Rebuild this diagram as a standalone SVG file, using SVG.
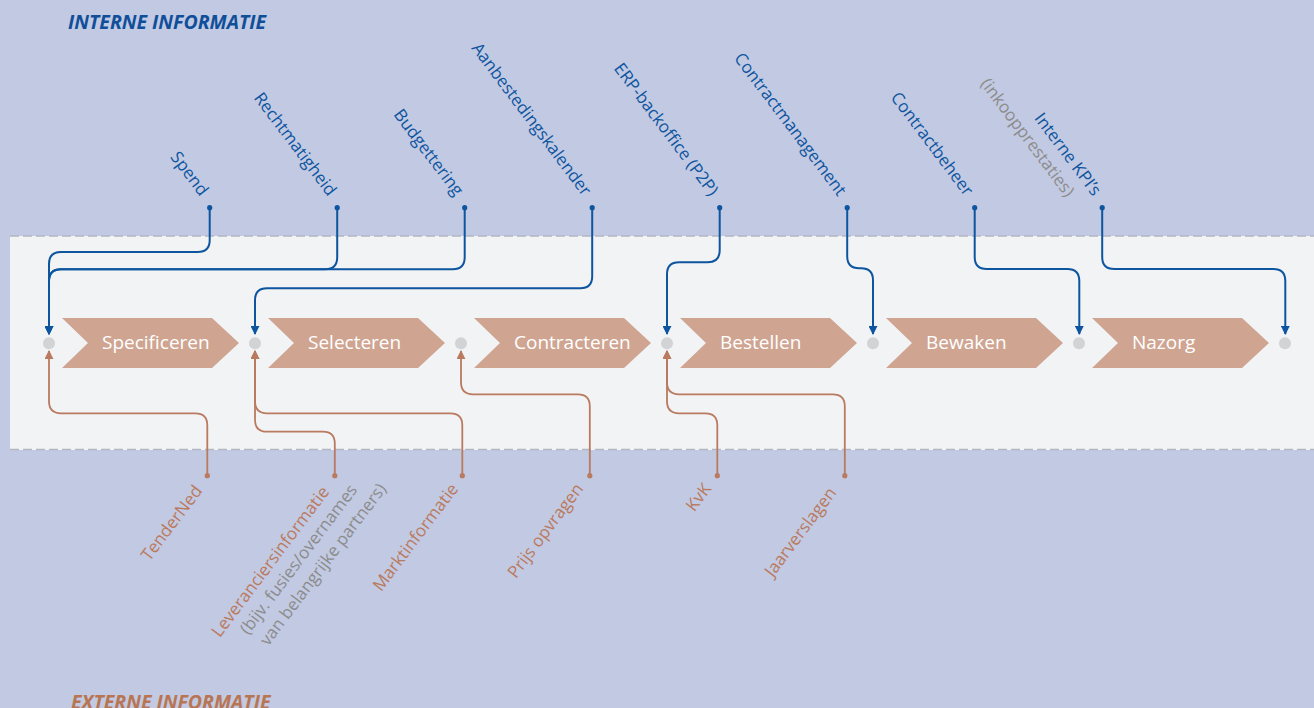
<svg xmlns="http://www.w3.org/2000/svg" width="1314" height="708" viewBox="0 0 1314 708">
<style>
.lbl{font-family:"Open Sans","Liberation Sans",sans-serif;font-size:17px;text-anchor:end}
.in{fill:#0e55a0}
.ex{fill:#b97a5f}
.gr{fill:#8c8c8c}
.step{fill:#cfa592}
.steptxt{font-family:"Open Sans","Liberation Sans",sans-serif;font-size:19px;fill:#ffffff}
.hub{fill:#d2d3d6}
.title{font-family:"Open Sans","Liberation Sans",sans-serif;font-size:19.5px;font-weight:bold;font-style:italic}
.cin{fill:none;stroke:#0e55a0;stroke-width:2;marker-end:url(#ahIn)}
.cex{fill:none;stroke:#b97a5f;stroke-width:1.8;marker-end:url(#ahEx)}
.band{stroke:#b3b7c1;stroke-width:1.5;stroke-dasharray:9 4;fill:none}
</style>
<defs>
<marker id="ahIn" markerUnits="userSpaceOnUse" markerWidth="9" markerHeight="9" viewBox="0 0 10 10" refX="9" refY="5" orient="auto">
<path d="M0,0 L10,5 L0,10 z" fill="#0e55a0"/>
</marker>
<marker id="ahEx" markerUnits="userSpaceOnUse" markerWidth="9" markerHeight="9" viewBox="0 0 10 10" refX="9" refY="5" orient="auto">
<path d="M0,0 L10,5 L0,10 z" fill="#b97a5f"/>
</marker>
<polygon id="chev" points="0,0 150,0 177,25 150,50 0,50 26,25"/>
</defs>
<rect x="0" y="0" width="1314" height="708" fill="#c2c9e2"/>
<rect x="10" y="236" width="1304" height="214" fill="#f2f3f5"/>
<line class="band" x1="10" y1="236" x2="1314" y2="236"/>
<line class="band" x1="10" y1="449.5" x2="1314" y2="449.5"/>

<text class="title" x="68" y="29.3" fill="#0f4f9a">INTERNE INFORMATIE</text>
<text class="title" x="71" y="709" fill="#b87554">EXTERNE INFORMATIE</text>

<g id="steps">
<g id="step-specificeren"><use href="#chev" class="step" x="62" y="318"/><text class="steptxt" x="102" y="349.3">Specificeren</text></g>
<g id="step-selecteren"><use href="#chev" class="step" x="268" y="318"/><text class="steptxt" x="308" y="349.3">Selecteren</text></g>
<g id="step-contracteren"><use href="#chev" class="step" x="474" y="318"/><text class="steptxt" x="514" y="349.3">Contracteren</text></g>
<g id="step-bestellen"><use href="#chev" class="step" x="680" y="318"/><text class="steptxt" x="720" y="349.3">Bestellen</text></g>
<g id="step-bewaken"><use href="#chev" class="step" x="886" y="318"/><text class="steptxt" x="926" y="349.3">Bewaken</text></g>
<g id="step-nazorg"><use href="#chev" class="step" x="1092" y="318"/><text class="steptxt" x="1132" y="349.3">Nazorg</text></g>
</g>

<g id="hubs">
<circle class="hub" cx="49" cy="343.3" r="6"/>
<circle class="hub" cx="255" cy="343.3" r="6"/>
<circle class="hub" cx="461" cy="343.3" r="6"/>
<circle class="hub" cx="667" cy="343.3" r="6"/>
<circle class="hub" cx="873" cy="343.3" r="6"/>
<circle class="hub" cx="1079" cy="343.3" r="6"/>
<circle class="hub" cx="1285" cy="343.3" r="6"/>
</g>

<g id="connectors">
<path class="cin" d="M209.7,207.7 V240 Q209.7,252 197.7,252 H61 Q49,252 49,264 V334"/>
<path class="cin" d="M337.2,207.7 V257.3 Q337.2,269.3 325.2,269.3 H61 Q49,269.3 49,281.3 V334"/>
<path class="cin" d="M464.7,207.7 V257.3 Q464.7,269.3 452.7,269.3 H61 Q49,269.3 49,281.3 V334"/>
<path class="cin" d="M592.2,207.7 V276.3 Q592.2,288.3 580.2,288.3 H267 Q255,288.3 255,300.3 V334"/>
<path class="cin" d="M719.7,207.7 V250.3 Q719.7,262.3 707.7,262.3 H679 Q667,262.3 667,274.3 V334"/>
<path class="cin" d="M847.2,207.7 V256.3 Q847.2,268.3 859.2,268.3 H861 Q873,268.3 873,280.3 V334"/>
<path class="cin" d="M974.7,207.7 V257 Q974.7,269 986.7,269 H1067.3 Q1079.3,269 1079.3,281 V334"/>
<path class="cin" d="M1102.2,207.7 V257 Q1102.2,269 1114.2,269 H1273.3 Q1285.3,269 1285.3,281 V334"/>
<path class="cex" d="M207.3,475.7 V425.3 Q207.3,413.3 195.3,413.3 H61 Q49,413.3 49,401.3 V351"/>
<path class="cex" d="M334.8,475.7 V443.7 Q334.8,431.7 322.8,431.7 H267 Q255,431.7 255,419.7 V351"/>
<path class="cex" d="M462.3,475.7 V425.3 Q462.3,413.3 450.3,413.3 H267 Q255,413.3 255,401.3 V351"/>
<path class="cex" d="M589.8,475.7 V406.3 Q589.8,394.3 577.8,394.3 H473 Q461,394.3 461,382.3 V351"/>
<path class="cex" d="M717.3,475.7 V425.3 Q717.3,413.3 705.3,413.3 H679 Q667,413.3 667,401.3 V351"/>
<path class="cex" d="M844.8,475.7 V406.3 Q844.8,394.3 832.8,394.3 H679 Q667,394.3 667,382.3 V351"/>
</g>

<g id="internal-sources">
<g id="src-spend"><circle cx="209.7" cy="207.7" r="2.6" class="in"/><text class="lbl in" transform="translate(200,197) rotate(53)">Spend</text></g>
<g id="src-rechtmatigheid"><circle cx="337.2" cy="207.7" r="2.6" class="in"/><text class="lbl in" transform="translate(328,197) rotate(53)">Rechtmatigheid</text></g>
<g id="src-budgettering"><circle cx="464.7" cy="207.7" r="2.6" class="in"/><text class="lbl in" transform="translate(455,197) rotate(53)">Budgettering</text></g>
<g id="src-aanbesteding"><circle cx="592.2" cy="207.7" r="2.6" class="in"/><text class="lbl in" transform="translate(583,197) rotate(53)">Aanbestedingskalender</text></g>
<g id="src-erp"><circle cx="719.7" cy="207.7" r="2.6" class="in"/><text class="lbl in" transform="translate(710,197) rotate(53)">ERP-backoffice (P2P)</text></g>
<g id="src-contractmanagement"><circle cx="847.2" cy="207.7" r="2.6" class="in"/><text class="lbl in" transform="translate(838,197) rotate(53)">Contractmanagement</text></g>
<g id="src-contractbeheer"><circle cx="974.7" cy="207.7" r="2.6" class="in"/><text class="lbl in" transform="translate(965,197) rotate(53)">Contractbeheer</text></g>
<g id="src-kpi"><circle cx="1102.2" cy="207.7" r="2.6" class="in"/><text class="lbl in" transform="translate(1093,197) rotate(53)">Interne KPI’s</text><text class="lbl gr" transform="translate(1066,198) rotate(53)">(inkoopprestaties)</text></g>
</g>

<g id="external-sources">
<g id="src-tenderned"><circle cx="207.3" cy="475.7" r="2.6" class="ex"/><text class="lbl ex" transform="translate(203,491) rotate(-53)">TenderNed</text></g>
<g id="src-leveranciers"><circle cx="334.8" cy="475.7" r="2.6" class="ex"/><text class="lbl ex" transform="translate(330,492) rotate(-53)">Leveranciersinformatie</text><text class="lbl gr" transform="translate(358,490) rotate(-53)">(bijv. fusies/overnames</text><text class="lbl gr" transform="translate(387,489) rotate(-53)">van belangrijke partners)</text></g>
<g id="src-markt"><circle cx="462.3" cy="475.7" r="2.6" class="ex"/><text class="lbl ex" transform="translate(459,489) rotate(-53)">Marktinformatie</text></g>
<g id="src-prijs"><circle cx="589.8" cy="475.7" r="2.6" class="ex"/><text class="lbl ex" transform="translate(584,489) rotate(-53)">Prijs opvragen</text></g>
<g id="src-kvk"><circle cx="717.3" cy="475.7" r="2.6" class="ex"/><text class="lbl ex" transform="translate(712,489) rotate(-53)">KvK</text></g>
<g id="src-jaarverslagen"><circle cx="844.8" cy="475.7" r="2.6" class="ex"/><text class="lbl ex" transform="translate(837,493) rotate(-53)">Jaarverslagen</text></g>
</g>
</svg>
